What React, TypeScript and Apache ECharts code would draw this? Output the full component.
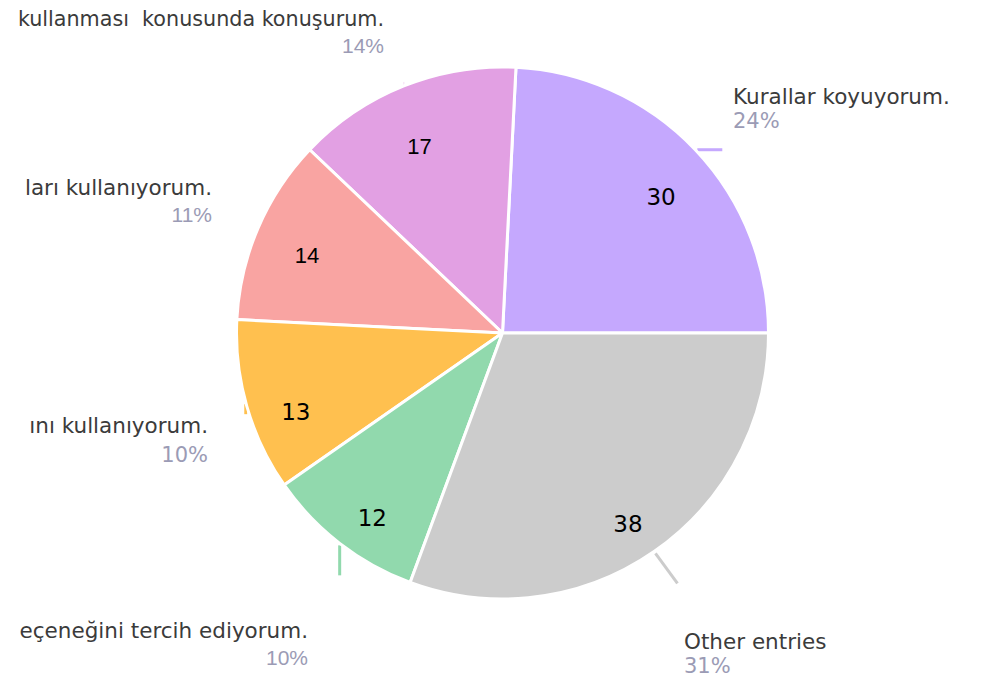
import React, { useEffect, useRef } from "react";
import * as echarts from "echarts";

const names = [
  "Kurallar koyuyorum.",
  "kullanması  konusunda konuşurum.",
  "ları kullanıyorum.",
  "ını kullanıyorum.",
  "eçeneğini tercih ediyorum.",
  "Other entries",
];
const values = [30, 17, 14, 13, 12, 38];
const colors = ["#c5a8fe", "#e2a0e3", "#f9a4a2", "#ffc04f", "#91d9ad", "#cccccc"];

// label placement (layout, not data)
const labelAnchor: [number, number, "left" | "right"][] = [
  [733, 84, "left"],
  [384, 6, "right"],
  [212, 175, "right"],
  [208, 413, "right"],
  [308, 618, "right"],
  [684, 629, "left"],
];
const nameStyle = ["n", "ns", "n", "n", "n", "n"];
const pctStyle = ["p", "pn", "pn", "pw", "pn", "p"];
const valueNarrow = [false, true, true, false, false, false];
const valueOffset: [number, number][] = [
  [2, 13],
  [-3, 14],
  [3, 8],
  [1, 20],
  [2, 14],
  [2, 14],
];
// stub offsets relative to slice edge point: [dx0, dy0, dx1, dy1, width, opacity]
const stubs = [
  [2, 0, 27, 0, 3, 1],
  [0, 0, 0, -4, 1, 0.35],
  [0, -2, 0, 3, 1, 0.35],
  [-1, -2, -1, 8, 3, 1],
  [0, 2, 0, 32, 3, 1],
  [1, 2, 23, 32, 3, 1],
];

const NARROW = "'Liberation Sans', Arial, sans-serif";
const REG = "'DejaVu Sans', Verdana, sans-serif";

export default function App() {
  const ref = useRef<HTMLDivElement>(null);
  useEffect(() => {
    document.body.style.margin = "0";
    const chart = echarts.init(ref.current!, null, { renderer: "svg" });
    const total = values.reduce((a, b) => a + b, 0);
    const option: any = {
      animation: false,
      series: [
        {
          type: "pie",
          center: [502.5, 333],
          radius: [0, 266],
          startAngle: 0,
          clockwise: false,
          avoidLabelOverlap: false,
          emphasis: { disabled: true },
          silent: true,
          itemStyle: { borderColor: "#ffffff", borderWidth: 3 },
          label: {
            show: true,
            position: "outside",
            formatter: (p: any) => {
              const i = p.dataIndex;
              const pct = Math.round((values[i] / total) * 100);
              return `{${nameStyle[i]}|${names[i]}}\n{${pctStyle[i]}|${pct}%}`;
            },
            rich: {
              n: { fontFamily: REG, fontSize: 21.5, color: "#3b3b3b", lineHeight: 25 },
              ns: { fontFamily: REG, fontSize: 20.7, color: "#3b3b3b", lineHeight: 25 },
              p: { fontFamily: REG, fontSize: 21, color: "#9b9bb5", lineHeight: 24 },
              pw: { fontFamily: REG, fontSize: 21, color: "#9b9bb5", lineHeight: 33 },
              pn: { fontFamily: NARROW, fontSize: 21, color: "#9b9bb5", lineHeight: 28 },
            },
          },
          labelLine: { show: true, length: 10, length2: 10, lineStyle: { width: 3 } },
          labelLayout: (p: any) => {
            const i = p.dataIndex;
            const a = labelAnchor[i];
            const pts = p.labelLinePoints;
            const p0 = pts && pts[0] ? pts[0] : [0, 0];
            const s = stubs[i];
            return {
              x: a[0],
              y: a[1],
              align: a[2],
              verticalAlign: "top",
              labelLinePoints: [
                [p0[0] + s[0], p0[1] + s[1]],
                [p0[0] + s[2], p0[1] + s[3]],
              ],
            };
          },
          data: values.map((v, i) => ({
            value: v,
            name: names[i],
            itemStyle: { color: colors[i] },
            labelLine: { lineStyle: { color: colors[i], width: stubs[i][4], opacity: stubs[i][5] } },
          })),
        },
        {
          type: "pie",
          center: [502.5, 333],
          radius: [160, 266],
          startAngle: 0,
          clockwise: false,
          avoidLabelOverlap: false,
          silent: true,
          emphasis: { disabled: true },
          itemStyle: { color: "rgba(0,0,0,0)", borderWidth: 0 },
          labelLine: { show: false },
          label: {
            show: true,
            position: "inside",
            color: "#000000",
            fontSize: 23,
            fontFamily: REG,
            formatter: (p: any) => `${values[p.dataIndex]}`,
          },
          data: values.map((v, i) => ({
            value: v,
            name: names[i],
            label: valueNarrow[i]
              ? { fontFamily: NARROW, fontSize: 22, offset: valueOffset[i] }
              : { offset: valueOffset[i] },
          })),
        },
      ],
    };
    chart.setOption(option);
    return () => chart.dispose();
  }, []);
  return <div ref={ref} style={{ width: 984, height: 680 }} />;
}
